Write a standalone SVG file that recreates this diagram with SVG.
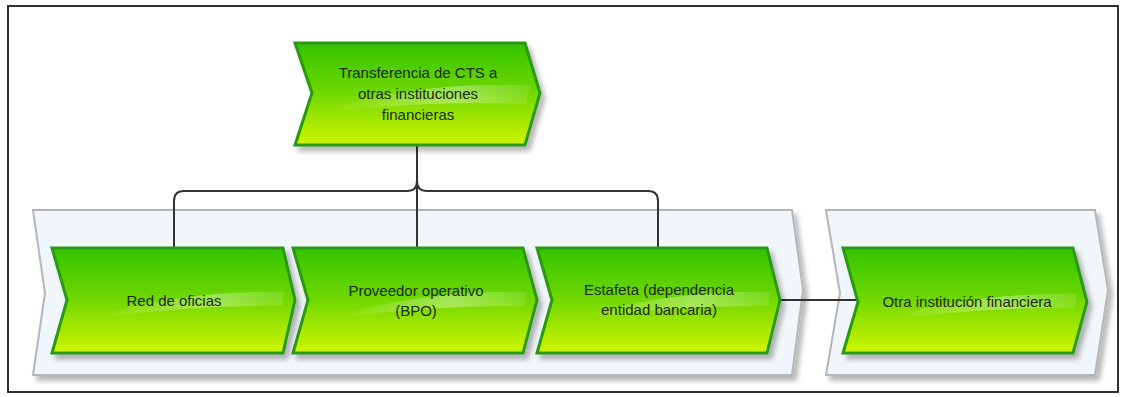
<svg xmlns="http://www.w3.org/2000/svg" width="1127" height="397" viewBox="0 0 1127 397">
<defs>
<linearGradient id="g" x1="0" y1="0" x2="0" y2="1">
<stop offset="0" stop-color="#35c400"/>
<stop offset="0.45" stop-color="#6ad600"/>
<stop offset="1" stop-color="#cff500"/>
</linearGradient>
<linearGradient id="shine" x1="0" y1="0" x2="1" y2="0">
<stop offset="0" stop-color="#ffffff" stop-opacity="0"/>
<stop offset="0.6" stop-color="#ffffff" stop-opacity="0.35"/>
<stop offset="1" stop-color="#ffffff" stop-opacity="0.1"/>
</linearGradient>
<filter id="sh" x="-5%" y="-10%" width="115%" height="130%">
<feDropShadow dx="4" dy="5" stdDeviation="2.5" flood-color="#000" flood-opacity="0.28"/>
</filter>
</defs>
<style>
.frame{fill:#fff;stroke:#1a1a1a;stroke-width:1.8}
.lane{fill:#f1f6fa;stroke:#b4b7ba;stroke-width:2;filter:url(#sh)}
.fn{fill:url(#g);stroke:#2a9a12;stroke-width:3;filter:url(#sh)}
.hl{fill:url(#shine)}
.conn{fill:none;stroke:#333;stroke-width:2}
text{font-family:"Liberation Sans",Arial,sans-serif;font-size:15px;fill:#1c2a12;text-anchor:middle}
</style>
<rect class="frame" x="8" y="6" width="1110" height="386"/>
<g id="lane1"><polygon class="lane" points="33,210 792,210 803,290 792,375 33,375 45,293"/></g>
<g id="lane2"><polygon class="lane" points="826,210 1095,210 1108,290 1095,375 826,375 840,293"/></g>
<g id="connectors">
<path class="conn" d="M417,145 V248"/>
<path class="conn" d="M417,181 Q417,191 407,191 H184 Q174,191 174,201 V248"/>
<path class="conn" d="M417,181 Q417,191 427,191 H648 Q658,191 658,201 V248"/>
<path class="conn" d="M780,300 H858"/>
</g>
<g id="n0">
<polygon class="fn" points="295,43 525,43 540,93 525,145 295,145 312,93"/>
<path class="hl" d="M330,108 Q430,80 530,86 L526,104 Q430,100 330,112 Z"/>
<text x="418" y="78">Transferencia de CTS a</text>
<text x="418" y="99">otras instituciones</text>
<text x="418" y="120">financieras</text>
</g>
<g id="n1">
<polygon class="fn" points="52,248 283,248 295,300 283,353 52,353 67,300"/>
<path class="hl" d="M100,315 Q190,290 285,292 L282,306 Q190,305 100,318 Z"/>
<text x="174" y="306">Red de oficias</text>
</g>
<g id="n2">
<polygon class="fn" points="293,248 523,248 537,300 523,353 293,353 308,300"/>
<path class="hl" d="M340,315 Q430,290 527,292 L524,306 Q430,305 340,318 Z"/>
<text x="416" y="296">Proveedor operativo</text>
<text x="416" y="316">(BPO)</text>
</g>
<g id="n3">
<polygon class="fn" points="537,248 767,248 780,300 767,353 537,353 552,300"/>
<path class="hl" d="M585,315 Q675,290 771,292 L768,306 Q675,305 585,318 Z"/>
<text x="659" y="295">Estafeta (dependencia</text>
<text x="659" y="315">entidad bancaria)</text>
</g>
<g id="n4">
<polygon class="fn" points="843,248 1073,248 1087,302 1073,353 843,353 858,302"/>
<path class="hl" d="M890,317 Q980,292 1077,294 L1074,308 Q980,307 890,320 Z"/>
<text x="967" y="307">Otra institución financiera</text>
</g>
</svg>
